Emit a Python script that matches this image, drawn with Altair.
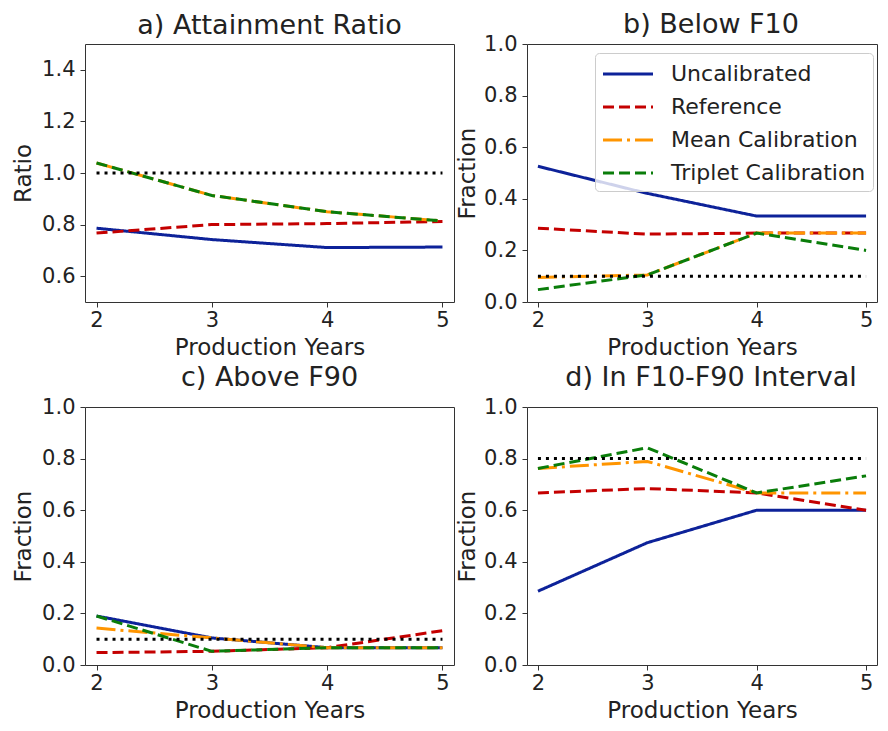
import altair as alt
import pandas as pd

FONT = "DejaVu Sans"

years = [2, 3, 4, 5]
series = ["Uncalibrated", "Reference", "Mean Calibration", "Triplet Calibration"]
colors = ["#0d2299", "#c40000", "#ff9500", "#0a7d0a"]
dashes = [[1, 0], [11, 5], [19, 5, 3, 5], [11, 5]]

# a) Attainment Ratio
a_uncal = [0.786, 0.742, 0.711, 0.713]
a_ref = [0.767, 0.800, 0.804, 0.812]
a_mean = [1.039, 0.913, 0.850, 0.814]
a_trip = [1.039, 0.913, 0.850, 0.814]
a_target = [1.0, 1.0, 1.0, 1.0]

# b) Below F10
b_uncal = [0.526, 0.421, 0.333, 0.333]
b_ref = [0.286, 0.263, 0.267, 0.267]
b_mean = [0.095, 0.105, 0.267, 0.267]
b_trip = [0.048, 0.105, 0.267, 0.200]
b_target = [0.1, 0.1, 0.1, 0.1]

# c) Above F90
c_uncal = [0.190, 0.105, 0.067, 0.067]
c_ref = [0.048, 0.053, 0.067, 0.133]
c_mean = [0.143, 0.105, 0.067, 0.067]
c_trip = [0.190, 0.053, 0.067, 0.067]
c_target = [0.1, 0.1, 0.1, 0.1]

# d) In F10-F90 Interval
d_uncal = [0.286, 0.474, 0.600, 0.600]
d_ref = [0.667, 0.684, 0.667, 0.600]
d_mean = [0.762, 0.789, 0.667, 0.667]
d_trip = [0.762, 0.842, 0.667, 0.733]
d_target = [0.8, 0.8, 0.8, 0.8]

ratio_ticks = [0.6, 0.8, 1.0, 1.2, 1.4]
frac_ticks = [0.0, 0.2, 0.4, 0.6, 0.8, 1.0]

legend_spec = alt.Legend(
    title=None, orient="none", legendX=68, legendY=9,
    symbolType="M-2,0L2,0", symbolSize=625, symbolStrokeWidth=3, symbolOffset=12,
    labelFont=FONT, labelFontSize=22, labelColor="#222222", labelOffset=29,
    rowPadding=8, padding=7, fillColor="rgba(255,255,255,0.8)",
    strokeColor="#cccccc", cornerRadius=4, labelLimit=400,
)

PH = 258


def panel(title, ytitle, vals, target, ydom, yticks, width, show_legend, title_dx=0, title_dy=0, ytitle_pad=6):
    rows = []
    for s, v in zip(series, vals):
        for x, y in zip(years, v):
            rows.append({"year": x, "value": y, "series": s})
    df = pd.DataFrame(rows)
    tdf = pd.DataFrame({"year": years, "value": target})

    xenc = alt.X("year:Q", scale=alt.Scale(domain=[1.9, 5.1], nice=False, zero=False),
                 axis=alt.Axis(values=years, format="d", title="Production Years"))
    yenc = alt.Y("value:Q", scale=alt.Scale(domain=ydom, nice=False, zero=False),
                 axis=alt.Axis(values=yticks, format=".1f", title=ytitle, titlePadding=ytitle_pad))
    leg = legend_spec if show_legend else None
    layers = []
    for s in series:
        layers.append(
            alt.Chart(df).transform_filter(alt.datum.series == s).mark_line(strokeWidth=3, clip=True).encode(
                x=xenc, y=yenc,
                color=alt.Color("series:N", scale=alt.Scale(domain=series, range=colors), legend=leg),
                strokeDash=alt.StrokeDash("series:N", scale=alt.Scale(domain=series, range=dashes), legend=leg),
            )
        )
    layers.append(
        alt.Chart(tdf).mark_line(color="black", strokeWidth=3, strokeDash=[3, 5]).encode(x=xenc, y=yenc)
    )
    return alt.layer(*layers).properties(
        width=width, height=PH,
        title=alt.TitleParams(title, dx=title_dx, dy=title_dy, frame="group"),
    )


pa = panel("a) Attainment Ratio", "Ratio", [a_uncal, a_ref, a_mean, a_trip], a_target, [0.5, 1.5], ratio_ticks, 369, False)
pb = panel("b) Below F10", "Fraction", [b_uncal, b_ref, b_mean, b_trip], b_target, [0, 1], frac_ticks, 350, True, 9, 10, 4)
pc = panel("c) Above F90", "Fraction", [c_uncal, c_ref, c_mean, c_trip], c_target, [0, 1], frac_ticks, 369, False)
pd_ = panel("d) In F10-F90 Interval", "Fraction", [d_uncal, d_ref, d_mean, d_trip], d_target, [0, 1], frac_ticks, 350, False, 9, 0, 4)

chart = alt.concat(pa, pb, pc, pd_, columns=2, spacing={"row": 105, "column": 73}, bounds="flush").resolve_scale(
    color="independent", strokeDash="independent"
).properties(
    padding={"left": 4, "top": 2, "right": 0, "bottom": 0}
).configure_view(
    stroke="#333333", strokeWidth=1
).configure_axis(
    domain=False, grid=False, tickColor="#333333", tickSize=5,
    labelFont=FONT, labelFontSize=21, labelColor="#222222",
    titleFont=FONT, titleFontSize=23, titleFontWeight="normal", titleColor="#222222",
).configure_axisX(
    labelPadding=2, titlePadding=6
).configure_axisY(
    labelPadding=5
).configure_title(
    font=FONT, fontSize=27, fontWeight="normal", color="#222222", anchor="middle",
    offset=4, baseline="alphabetic"
)

chart.save("out.html", embed_options={"renderer": "svg", "actions": False})
